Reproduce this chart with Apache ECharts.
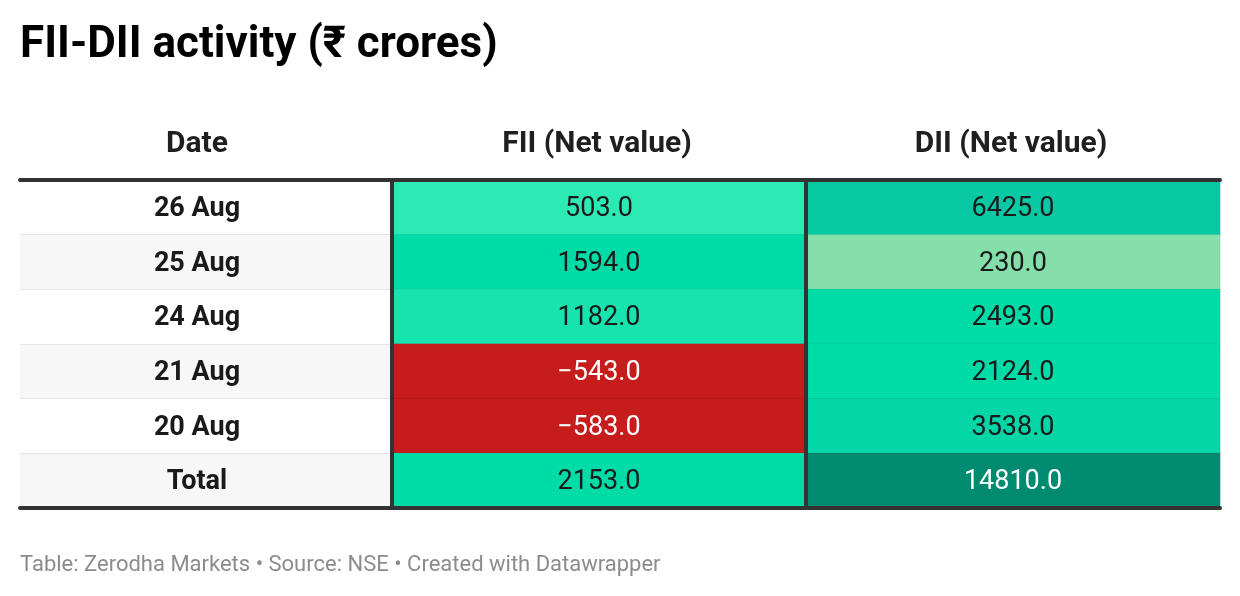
<!DOCTYPE html>
<html>
<head>
<meta charset="utf-8">
<script src="https://cdn.jsdelivr.net/npm/echarts@6/dist/echarts.min.js"></script>
<style>
  html, body { margin: 0; padding: 0; background: #ffffff; }
  #chart { width: 1240px; height: 596px; }
</style>
</head>
<body>
<div id="chart"></div>
<script>
// table content
const headers = ['Date', 'FII (Net value)', 'DII (Net value)'];
const rows = ['26 Aug', '25 Aug', '24 Aug', '21 Aug', '20 Aug', 'Total'];
const fiiValues = [503, 1594, 1182, -543, -583, 2153];
const diiValues = [6425, 230, 2493, 2124, 3538, 14810];

const FONT = 'Roboto, "Noto Sans", sans-serif';
const LINE = '#333333';
const totalIndex = rows.indexOf('Total');

const chart = echarts.init(document.getElementById('chart'));

// column layout: date column is narrower than the two value columns
const grids = [
    { left: 20, width: 372, top: 180, height: 328 },
    { left: 392, width: 414, top: 180, height: 328 },
    { left: 806, width: 414, top: 180, height: 328 }
];

const xAxes = [];
const yAxes = [];
grids.forEach(function (g, i) {
    xAxes.push({
        type: 'category', gridIndex: i, position: 'top', data: [headers[i]], z: 10,
        axisLine: { show: true, lineStyle: { color: LINE, width: 4 } },
        axisTick: { show: false },
        axisLabel: {
            margin: 21, fontFamily: FONT, fontSize: 30, fontWeight: 'bold', color: '#1f1f1f',
            padding: i === 0 ? [0, 18, 0, 0] : [0, 4, 0, 0]
        }
    });
    xAxes.push({
        type: 'category', gridIndex: i, position: 'bottom', data: [headers[i]], z: 10,
        axisLine: { show: true, lineStyle: { color: LINE, width: 4 } },
        axisTick: { show: false }, axisLabel: { show: false }
    });
    yAxes.push({
        type: 'category', gridIndex: i, data: rows, inverse: true, z: i === 0 ? 0 : 10,
        axisLine: { show: i > 0, lineStyle: { color: LINE, width: 4 } },
        axisTick: { show: false }, axisLabel: { show: false },
        splitLine: { show: i === 0, interval: 0, lineStyle: { color: '#e6e6e6', width: 1 } },
        splitArea: { show: i === 0, interval: 0, areaStyle: { color: ['#ffffff', '#f7f7f7'] } }
    });
    // second y axis only carries the heavy rule above the Total row
    yAxes.push({
        type: 'category', gridIndex: i, data: rows, inverse: true, position: 'right', z: 10,
        axisLine: { show: false }, axisTick: { show: false }, axisLabel: { show: false },
        splitLine: {
            show: true,
            interval: function (index) { return index === totalIndex; },
            lineStyle: { color: LINE, width: 4 }
        }
    });
});

function valueSeries(values, gi) {
    return {
        type: 'heatmap',
        xAxisIndex: gi * 2,
        yAxisIndex: gi * 2,
        data: values.map(function (v, r) { return [0, r, v]; }),
        itemStyle: { borderColor: 'rgba(0,0,0,0.05)', borderWidth: 1 },
        emphasis: { disabled: true },
        label: {
            show: true,
            offset: [0, 2],
            formatter: function (p) {
                const v = p.value[2];
                const txt = (v < 0 ? '\u2212' : '') + Math.abs(v).toFixed(1);
                return (v < 0 || v > 10000) ? '{w|' + txt + '}' : '{d|' + txt + '}';
            },
            rich: {
                d: { fontFamily: FONT, fontSize: 27, color: '#1a1a1a' },
                w: { fontFamily: FONT, fontSize: 27, color: '#ffffff' }
            }
        }
    };
}

chart.setOption({
    animation: false,
    title: [{
        text: 'FII-DII activity (₹ crores)',
        left: 15, top: 19,
        textStyle: { fontFamily: FONT, fontSize: 44, fontWeight: 'bold', color: '#000000' }
    }, {
        text: 'Table: Zerodha Markets • Source: NSE • Created with Datawrapper',
        left: 15, top: 549,
        textStyle: { fontFamily: FONT, fontSize: 22, fontWeight: 'normal', color: '#8c8c8c' }
    }],
    grid: grids,
    xAxis: xAxes,
    yAxis: yAxes,
    visualMap: {
        type: 'piecewise', show: false, seriesIndex: [1, 2], dimension: 2,
        pieces: [
            { lt: 0, color: '#c61c1c' },
            { gte: 0, lt: 400, color: '#84dfab' },
            { gte: 400, lt: 800, color: '#2deab5' },
            { gte: 800, lt: 1400, color: '#17e3ae' },
            { gte: 1400, lt: 3000, color: '#00dca8' },
            { gte: 3000, lt: 5000, color: '#05d6a7' },
            { gte: 5000, lt: 10000, color: '#09c9a5' },
            { gte: 10000, color: '#008a70' }
        ]
    },
    series: [{
        type: 'custom',
        xAxisIndex: 0,
        yAxisIndex: 0,
        z: 5,
        data: rows.map(function (d, r) { return [0, r]; }),
        renderItem: function (params, api) {
            const pt = api.coord([api.value(0), api.value(1)]);
            return {
                type: 'text',
                x: pt[0] - 9, y: pt[1] + 2,
                style: {
                    text: rows[api.value(1)],
                    fill: '#1a1a1a',
                    font: 'bold 27px ' + FONT,
                    align: 'center',
                    verticalAlign: 'middle'
                }
            };
        }
    },
    valueSeries(fiiValues, 1),
    valueSeries(diiValues, 2)]
});
</script>
</body>
</html>
